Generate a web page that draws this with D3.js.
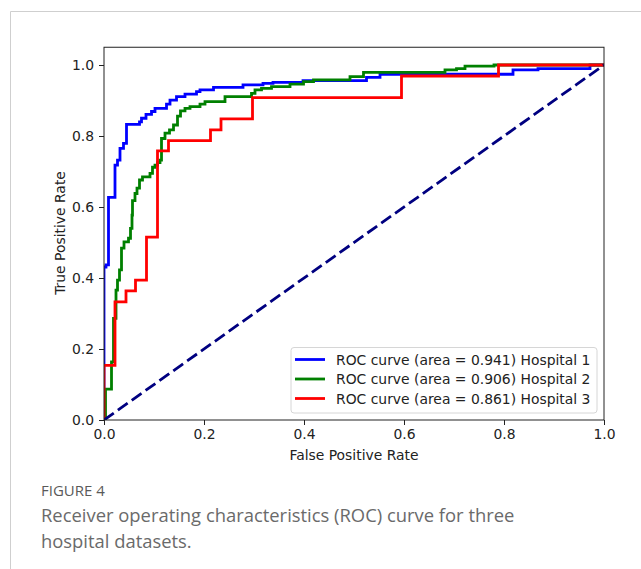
<!DOCTYPE html>
<html lang="en">
<head>
  <meta charset="UTF-8">
  <title>ROC curves for three hospitals</title>
  <script src="https://d3js.org/d3.v7.min.js"></script>
  <style>
    body { margin: 0; background: #fff; }
    svg { display: block; }
  </style>
</head>
<body>
  <svg id="chart" width="641" height="569"></svg>

  <script>
    // ROC step points (fpr, tpr)
    const h1Fpr = [0, 0, 0.004, 0.009, 0.022, 0.027, 0.032, 0.039, 0.045, 0.071, 0.075, 0.084, 0.095, 0.102, 0.125, 0.132, 0.145, 0.162, 0.185, 0.192, 0.219, 0.278, 0.318, 0.338, 0.398, 0.525, 0.552, 0.818, 0.868, 0.972, 1.0];
    const h1Tpr = [0, 0.431, 0.437, 0.627, 0.718, 0.732, 0.765, 0.779, 0.833, 0.840, 0.850, 0.861, 0.869, 0.878, 0.890, 0.901, 0.911, 0.918, 0.925, 0.930, 0.937, 0.944, 0.948, 0.951, 0.956, 0.965, 0.974, 0.986, 0.990, 1.0, 1.0];

    const h2Fpr = [0, 0.003, 0.015, 0.019, 0.024, 0.027, 0.031, 0.035, 0.040, 0.049, 0.053, 0.056, 0.057, 0.062, 0.066, 0.071, 0.077, 0.092, 0.097, 0.102, 0.107, 0.112, 0.115, 0.122, 0.131, 0.139, 0.147, 0.153, 0.162, 0.172, 0.192, 0.202, 0.242, 0.295, 0.302, 0.315, 0.335, 0.372, 0.399, 0.419, 0.492, 0.519, 0.682, 0.705, 0.722, 0.78, 1.0];
    const h2Tpr = [0, 0.087, 0.164, 0.286, 0.366, 0.394, 0.423, 0.484, 0.502, 0.512, 0.540, 0.577, 0.618, 0.638, 0.653, 0.676, 0.685, 0.695, 0.712, 0.718, 0.725, 0.732, 0.793, 0.808, 0.817, 0.831, 0.856, 0.871, 0.878, 0.883, 0.890, 0.897, 0.911, 0.920, 0.930, 0.934, 0.939, 0.946, 0.953, 0.958, 0.967, 0.979, 0.986, 0.990, 0.997, 1.0, 1.0];

    const h3Fpr = [0, 0, 0.022, 0.044, 0.063, 0.085, 0.107, 0.129, 0.213, 0.234, 0.297, 0.595, 0.789, 1.0];
    const h3Tpr = [0, 0.154, 0.333, 0.364, 0.394, 0.515, 0.758, 0.787, 0.817, 0.848, 0.908, 0.969, 1.0, 1.0];

    const seriesNames = ["ROC curve (area = 0.941) Hospital 1", "ROC curve (area = 0.906) Hospital 2", "ROC curve (area = 0.861) Hospital 3"];
    const seriesColors = ["blue", "green", "red"];
    const ticks = [0, 0.2, 0.4, 0.6, 0.8, 1.0];

    const series = [[h1Fpr, h1Tpr], [h2Fpr, h2Tpr], [h3Fpr, h3Tpr]].map((s, i) => ({
      name: seriesNames[i],
      color: seriesColors[i],
      points: s[0].map((f, j) => [f, s[1][j]])
    }));

    const fontSize = 13.9;
    const svg = d3.select("#chart");

    // page frame
    svg.append("path")
      .attr("d", "M10.5,569V11.5H641")
      .attr("fill", "none")
      .attr("stroke", "#cfcfcf");

    const x = d3.scaleLinear().domain([0, 1]).range([104, 604]);
    const y = d3.scaleLinear().domain([0, 1.05]).range([420, 47.25]);

    svg.append("clipPath").attr("id", "plotClip")
      .append("rect")
      .attr("x", 104).attr("y", 47.25)
      .attr("width", 500).attr("height", 372.75);

    const plot = svg.append("g").attr("clip-path", "url(#plotClip)");

    const line = d3.line()
      .x(d => x(d[0]))
      .y(d => y(d[1]))
      .curve(d3.curveStepAfter);

    plot.selectAll("path.roc")
      .data(series)
      .enter()
      .append("path")
      .attr("class", "roc")
      .attr("d", d => line(d.points))
      .attr("fill", "none")
      .attr("stroke", d => d.color)
      .attr("stroke-width", 2.8);

    // chance line
    plot.append("line")
      .attr("x1", x(0)).attr("y1", y(0))
      .attr("x2", x(1)).attr("y2", y(1))
      .attr("stroke", "navy")
      .attr("stroke-width", 2.8)
      .attr("stroke-dasharray", "12,5");

    // axes
    const xAxis = svg.append("g")
      .attr("transform", "translate(0,420)")
      .call(d3.axisBottom(x).tickValues(ticks).tickFormat(d3.format(".1f")).tickSize(5).tickPadding(4));
    const yAxis = svg.append("g")
      .attr("transform", "translate(104,0)")
      .call(d3.axisLeft(y).tickValues(ticks).tickFormat(d3.format(".1f")).tickSize(5).tickPadding(5));

    [xAxis, yAxis].forEach(a => {
      a.attr("font-family", "DejaVu Sans").attr("font-size", fontSize);
      a.select(".domain").remove();
      a.selectAll(".tick line").attr("stroke", "#222");
      a.selectAll(".tick text").attr("fill", "#222");
    });

    // axes frame
    svg.append("rect")
      .attr("x", 104).attr("y", 47.25)
      .attr("width", 500).attr("height", 372.75)
      .attr("fill", "none")
      .attr("stroke", "#222")
      .attr("stroke-width", 1);

    svg.append("text")
      .attr("x", 354).attr("y", 460)
      .attr("text-anchor", "middle")
      .attr("font-family", "DejaVu Sans")
      .attr("font-size", fontSize)
      .attr("fill", "#222")
      .text("False Positive Rate");

    svg.append("text")
      .attr("transform", "translate(65,233) rotate(-90)")
      .attr("text-anchor", "middle")
      .attr("font-family", "DejaVu Sans")
      .attr("font-size", fontSize)
      .attr("fill", "#222")
      .text("True Positive Rate");

    // legend
    const legend = svg.append("g");
    legend.append("rect")
      .attr("x", 291).attr("y", 347.5)
      .attr("width", 306).attr("height", 65.5)
      .attr("rx", 3)
      .attr("fill", "white")
      .attr("fill-opacity", 0.8)
      .attr("stroke", "#d6d6d6");

    const items = legend.selectAll("g.item")
      .data(series)
      .enter()
      .append("g")
      .attr("class", "item")
      .attr("transform", (d, i) => `translate(0,${359.5 + i * 19.5})`);

    items.append("line")
      .attr("x1", 295).attr("x2", 325)
      .attr("stroke", d => d.color)
      .attr("stroke-width", 2.8);

    items.append("text")
      .attr("x", 336).attr("y", 5)
      .attr("font-family", "DejaVu Sans")
      .attr("font-size", fontSize)
      .attr("fill", "#222")
      .text(d => d.name);

    // caption
    svg.append("text")
      .attr("x", 41).attr("y", 496)
      .attr("font-family", "Open Sans")
      .attr("font-size", 15)
      .attr("fill", "#5a5a5a")
      .text("FIGURE 4");

    svg.append("text")
      .attr("x", 41).attr("y", 522)
      .attr("font-family", "Open Sans")
      .attr("font-size", 18.4)
      .attr("fill", "#6a6a6a")
      .text("Receiver operating characteristics (ROC) curve for three");

    svg.append("text")
      .attr("x", 41).attr("y", 548)
      .attr("font-family", "Open Sans")
      .attr("font-size", 18.4)
      .attr("fill", "#6a6a6a")
      .text("hospital datasets.");
  </script>
</body>
</html>
